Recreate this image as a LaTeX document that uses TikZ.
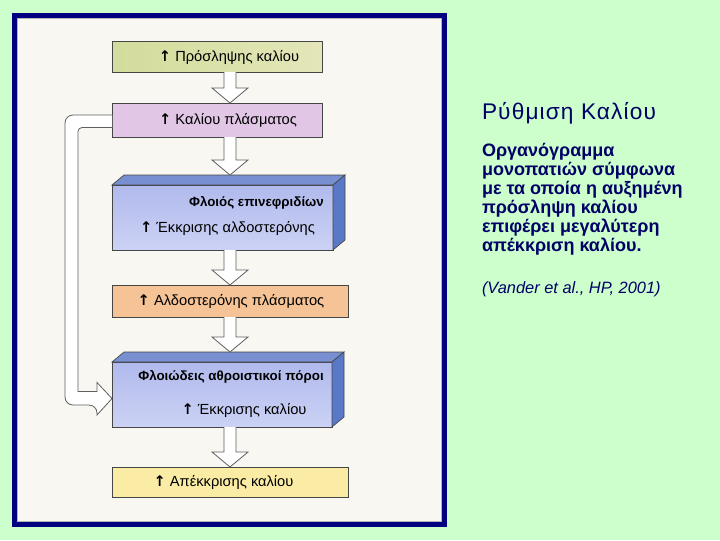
\documentclass[tikz,border=0pt]{standalone}
\usepackage{fontspec}
\setmainfont{Liberation Sans}
\newfontfamily\arrowfont{DejaVu Sans}
\usetikzlibrary{calc}
\definecolor{cccffcc}{RGB}{204,255,204}
\definecolor{c000080}{RGB}{0,0,128}
\definecolor{cf8f7f2}{RGB}{248,247,242}
\definecolor{cb4b4b4}{RGB}{180,180,180}
\definecolor{c464646}{RGB}{70,70,70}
\definecolor{c5f5f5f}{RGB}{95,95,95}
\definecolor{cd2dc9b}{RGB}{210,220,155}
\definecolor{ce4e6b9}{RGB}{228,230,185}
\definecolor{ce1c6e6}{RGB}{225,198,230}
\definecolor{cb0baec}{RGB}{176,186,236}
\definecolor{cccd2f5}{RGB}{204,210,245}
\definecolor{c7890d2}{RGB}{120,144,210}
\definecolor{c5a78c8}{RGB}{90,120,200}
\definecolor{cf5c396}{RGB}{245,195,150}
\definecolor{cfaeca5}{RGB}{250,236,165}
\definecolor{c000066}{RGB}{0,0,102}
\def \globalscale {1.000000}
\def \up {{\arrowfont\bfseries ↑}}

\begin{document}
\begin{tikzpicture}[x=0.75pt, y=-0.75pt, xscale=\globalscale, yscale=\globalscale, every node/.append style={scale=\globalscale}, inner sep=0pt, outer sep=0pt,
  flatbox/.style={draw=c464646, line width=0.5pt},
  blockarrow/.style={draw=c5f5f5f, fill=white, line width=0.6pt, line join=miter,
    to path={($(\tikztostart)+(-6,0)$) -- ($(\tikztotarget)+(-6,-15)$) -- ($(\tikztotarget)+(-18,-15)$) -- (\tikztotarget) -- ($(\tikztotarget)+(18,-15)$) -- ($(\tikztotarget)+(6,-15)$) -- ($(\tikztostart)+(6,0)$)}},
  boxtext/.style={text=black, font=\fontsize{11}{13}\selectfont},
  boldtext/.style={text=black, font=\fontsize{10}{12}\selectfont\bfseries}]

  % page and frame
  \path[fill=cccffcc] (0,0) rectangle (720,540);
  \path[fill=c000080] (12,13) rectangle (447,527);
  \path[draw=cb4b4b4,fill=cf8f7f2,line width=0.75pt] (17.5,18.5) rectangle (441.5,521.5);

  \coordinate (spine) at (230,0);

  % boxes
  \node[flatbox, left color=cd2dc9b, right color=ce4e6b9, minimum width=157.5pt, minimum height=23.25pt] (box1) at (217,56.5) {};
  \node[flatbox, fill=ce1c6e6, minimum width=157.5pt, minimum height=25.5pt] (box2) at (217,120) {};

  \node[flatbox, top color=cb0baec, bottom color=cccd2f5, minimum width=165.75pt, minimum height=48.75pt] (box3) at (222.5,217.5) {};
  \path[flatbox, fill=c7890d2] (box3.north west) -- ++(12,-10) -- ($(box3.north east)+(12,-10)$) -- (box3.north east) -- cycle;
  \path[flatbox, fill=c5a78c8] (box3.north east) -- ++(12,-10) -- ($(box3.south east)+(12,-10)$) -- (box3.south east) -- cycle;

  \node[flatbox, fill=cf5c396, minimum width=177pt, minimum height=24pt] (box4) at (230,301) {};

  \node[flatbox, top color=cb0baec, bottom color=cccd2f5, minimum width=165pt, minimum height=48.75pt] (box5) at (222,394.5) {};
  \path[flatbox, fill=c7890d2] (box5.north west) -- ++(12,-10) -- ($(box5.north east)+(12,-10)$) -- (box5.north east) -- cycle;
  \path[flatbox, fill=c5a78c8] (box5.north east) -- ++(12,-10) -- ($(box5.south east)+(12,-10)$) -- (box5.south east) -- cycle;

  \node[flatbox, fill=cfaeca5, minimum width=177pt, minimum height=22.5pt] (box6) at (230,482) {};

  \coordinate (lid3) at ($(box3.north -| spine)+(0,-10)$);
  \coordinate (lid5) at ($(box5.north -| spine)+(0,-10)$);

  % arrows
  \path[blockarrow] (box1.south -| spine) to (box2.north -| spine);
  \path[blockarrow] (box2.south -| spine) to (lid3);
  \path[blockarrow] (box3.south -| spine) to (box4.north -| spine);
  \path[blockarrow] (box4.south -| spine) to (lid5);
  \path[blockarrow] (box5.south -| spine) to (box6.north -| spine);

  \path[draw=c5f5f5f, fill=white, line width=0.6pt, rounded corners=6pt]
    ($(box2.west)+(0,-5)$) -- ++(-47,0) -- ++(0,290) -- ++(32,0) [sharp corners]
    -- ++(0,10) -- ($(box5.west)+(0,4)$) -- ++(-15,-16) -- ++(0,9) -- ++(-19,0)
    [rounded corners=3pt] -- ++(0,-264) -- ++(34,0);

  % labels
  \node[boxtext] (text1) at (229,57) {\up{} Πρόσληψης καλίου};
  \node[boxtext] (text2) at (228,120) {\up{} Καλίου πλάσματος};
  \node[boldtext] (text3) at (256.5,203) {Φλοιός επινεφριδίων};
  \node[boxtext] (text4) at (227.5,228) {\up{} Έκκρισης αλδοστερόνης};
  \node[boxtext] (text5) at (231,301) {\up{} Αλδοστερόνης πλάσματος};
  \node[boldtext] (text6) at (231,377) {Φλοιώδεις αθροιστικοί πόροι};
  \node[boxtext] (text7) at (244,410) {\up{} Έκκρισης καλίου};
  \node[boxtext] (text8) at (223.5,482) {\up{} Απέκκρισης καλίου};

  \node[text=c000066, anchor=west, font=\fontsize{17}{20}\selectfont\addfontfeature{LetterSpace=5}] (text9) at (482,113) {Ρύθμιση Καλίου};
  \node[text=c000066, anchor=north west, align=left, font=\fontsize{13.5}{14.2}\selectfont\bfseries] (text10) at (482,143.5)
    {Οργανόγραμμα\\μονοπατιών σύμφωνα\\με τα οποία η αυξημένη\\πρόσληψη καλίου\\επιφέρει μεγαλύτερη\\απέκκριση καλίου.};
  \node[text=c000066, anchor=west, font=\fontsize{12.3}{14}\selectfont\itshape] (text11) at (482,289) {(Vander et al., HP, 2001)};

\end{tikzpicture}
\end{document}
